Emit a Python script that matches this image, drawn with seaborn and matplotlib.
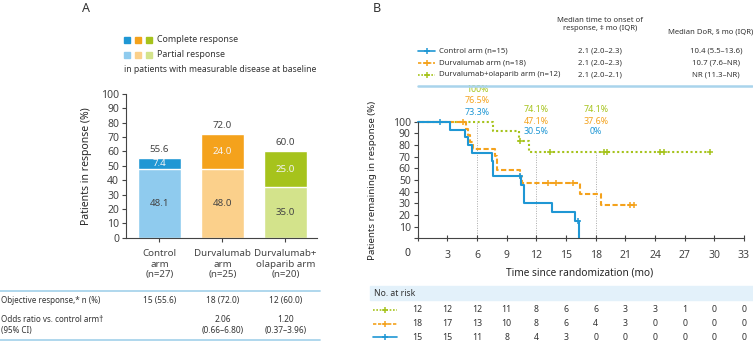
import numpy as np
import pandas as pd
import matplotlib.pyplot as plt
import seaborn as sns
from matplotlib.lines import Line2D
from matplotlib.patches import Rectangle
from matplotlib.transforms import blended_transform_factory

sns.set_style('ticks')
plt.rcParams['font.family'] = ['Noto Sans', 'DejaVu Sans']
plt.rcParams['text.color'] = '#333333'
plt.rcParams['axes.edgecolor'] = '#444444'
plt.rcParams['xtick.color'] = '#444444'
plt.rcParams['ytick.color'] = '#444444'

# ---- panel A data ----
arms = ['Control\narm\n(n=27)', 'Durvalumab\narm\n(n=25)', 'Durvalumab+\nolaparib arm\n(n=20)']
partial = [48.1, 48.0, 35.0]
complete = [7.4, 24.0, 25.0]
total = [55.6, 72.0, 60.0]
dark_cols = ['#1f97d4', '#f4a21c', '#a6c31c']
light_cols = ['#8fcbee', '#fbd08b', '#d3e38b']
orr = ['15 (55.6)', '18 (72.0)', '12 (60.0)']
odds = ['', '2.06', '1.20']
odds_ci = ['', '(0.66–6.80)', '(0.37–3.96)']

# ---- panel B data (Kaplan-Meier steps) ----
ctrl_t = [0, 3.3, 4.8, 5.1, 5.5, 7.5, 7.6, 10.4, 10.7, 13.6, 15.9, 16.3]
ctrl_s = [100, 93.3, 86.7, 80.0, 73.3, 66.7, 53.3, 45.7, 30.5, 22.9, 15.2, 0]
ctrl_cens = [2.3, 10.3, 16.2]

durv_t = [0, 4.9, 5.1, 5.3, 5.6, 7.8, 8.0, 10.3, 10.5, 16.4, 18.5, 22.0]
durv_s = [100, 94.1, 88.2, 82.4, 76.5, 70.6, 58.8, 52.9, 47.1, 37.6, 28.2, 28.2]
durv_cens = [4.6, 13.2, 14.0, 15.7, 21.5, 21.9]

olap_t = [0, 7.6, 10.2, 11.3, 29.6]
olap_s = [100, 91.7, 83.3, 74.1, 74.1]
olap_cens = [10.3, 13.4, 18.8, 19.1, 24.5, 24.9, 29.6]

risk_times = [0, 3, 6, 9, 12, 15, 18, 21, 24, 27, 30, 33]
risk_olap = [12, 12, 12, 11, 8, 6, 6, 3, 3, 1, 0, 0]
risk_durv = [18, 17, 13, 10, 8, 6, 4, 3, 0, 0, 0, 0]
risk_ctrl = [15, 15, 11, 8, 4, 3, 0, 0, 0, 0, 0, 0]

legend_names = ['Control arm (n=15)', 'Durvalumab arm (n=18)', 'Durvalumab+olaparib arm (n=12)']
onset = ['2.1 (2.0–2.3)', '2.1 (2.0–2.3)', '2.1 (2.0–2.1)']
dor = ['10.4 (5.5–13.6)', '10.7 (7.6–NR)', 'NR (11.3–NR)']

land_times = [6, 12, 18]
land_olap = ['100%', '74.1%', '74.1%']
land_durv = ['76.5%', '47.1%', '37.6%']
land_ctrl = ['73.3%', '30.5%', '0%']

W, H = 753, 345
fig = plt.figure(figsize=(W / 100, H / 100), dpi=100)


def fx(px):
    return px / W


def fy(py):
    return 1 - py / H


BLUE, ORANGE, GREEN = dark_cols
LINE_BLUE = '#a9d4ec'

# ================= panel A =================
axA = fig.add_axes([fx(126), fy(237.7), 191 / W, 143.7 / H])
dfA = pd.DataFrame({'arm': arms, 'total': total, 'partial': partial})
sns.barplot(data=dfA, x='arm', y='total', hue='arm', palette=dark_cols, legend=False,
            width=0.686, ax=axA, saturation=1)
sns.barplot(data=dfA, x='arm', y='partial', hue='arm', palette=light_cols, legend=False,
            width=0.686, ax=axA, saturation=1)
axA.set_xlim(-0.53, 2.5)
axA.set_ylim(0, 100)
axA.set_yticks(range(0, 101, 10))
axA.set_xlabel('')
axA.set_ylabel('Patients in response (%)', fontsize=7.5)
axA.yaxis.set_label_coords(-0.18, 0.5)
axA.tick_params(axis='y', labelsize=7.5, length=3, pad=2)
axA.tick_params(axis='x', labelsize=7, length=3, pad=5)
for lab in axA.get_xticklabels():
    lab.set_linespacing(1.25)
sns.despine(ax=axA)
for i in range(3):
    axA.text(i, partial[i] / 2, f'{partial[i]:.1f}', ha='center', va='center', fontsize=7, color='#444444')
    axA.text(i, partial[i] + complete[i] / 2, f'{complete[i]:.1f}', ha='center', va='center',
             fontsize=7, color='#f4f4f4')
    axA.annotate(f'{total[i]:.1f}', (i, total[i]), xytext=(0, 3), textcoords='offset points',
                 ha='center', va='bottom', fontsize=7, color='#444444')

# legend of panel A
for k in range(3):
    fig.add_artist(Rectangle((fx(124 + 11 * k), fy(43)), 6 / W, 6 / H, color=dark_cols[k],
                             transform=fig.transFigure))
    fig.add_artist(Rectangle((fx(124 + 11 * k), fy(57.5)), 6 / W, 6 / H, color=light_cols[k],
                             transform=fig.transFigure))
fig.text(fx(157), fy(40), 'Complete response', fontsize=6.4, va='center')
fig.text(fx(157), fy(54.5), 'Partial response', fontsize=6.4, va='center')
fig.text(fx(124), fy(69), 'in patients with measurable disease at baseline', fontsize=6.2, va='center')

# table below panel A
trA = blended_transform_factory(axA.transData, fig.transFigure)
fig.add_artist(Line2D([0, fx(320)], [fy(290.5), fy(290.5)], color=LINE_BLUE, lw=1.3))
fig.add_artist(Line2D([0, fx(320)], [fy(340), fy(340)], color=LINE_BLUE, lw=1.3))
fig.text(fx(1), fy(300.5), 'Objective response,* n (%)', fontsize=5.8, va='center')
fig.text(fx(1), fy(320), 'Odds ratio vs. control arm†', fontsize=5.8, va='center')
fig.text(fx(1), fy(331), '(95% CI)', fontsize=5.8, va='center')
for i in range(3):
    axA.text(i, fy(300.5), orr[i], transform=trA, ha='center', va='center', fontsize=6)
    axA.text(i, fy(320), odds[i], transform=trA, ha='center', va='center', fontsize=6)
    axA.text(i, fy(331), odds_ci[i], transform=trA, ha='center', va='center', fontsize=6)

fig.text(fx(86), fy(9), 'A', fontsize=9, fontweight='bold', ha='center', va='center')
fig.text(fx(377), fy(9), 'B', fontsize=9, fontweight='bold', ha='center', va='center')

# ================= panel B =================
axB = fig.add_axes([fx(417.7), fy(238.3), 326.3 / W, 116.6 / H])
arms_km = [
    (olap_t, olap_s, olap_cens, GREEN, (0, (1, 1.2))),
    (durv_t, durv_s, durv_cens, ORANGE, (0, (2.5, 1.2))),
    (ctrl_t, ctrl_s, ctrl_cens, BLUE, '-'),
]
for t, s, cens, col, ls in arms_km:
    sns.lineplot(x=t, y=s, drawstyle='steps-post', estimator=None, sort=False, color=col,
                 linestyle=ls, lw=1.5, ax=axB, clip_on=False)
    cs = [s[np.searchsorted(t, c, side='right') - 1] for c in cens]
    axB.plot(cens, cs, ls='none', marker='+', ms=5, mew=1.1, color=col, clip_on=False)

# landmark lines and labels
land_top = [max(np.array(s)[np.searchsorted(t, lt, side='right') - 1] for t, s, *_ in arms_km)
            for lt in land_times]
for lt, top in zip(land_times, land_top):
    axB.plot([lt, lt], [0, top], color='#aaaaaa', lw=0.7, ls=(0, (1, 1.5)), zorder=0)
label_y = [[127.2, 117.8, 108.3], [110.8, 100.6, 91.2], [110.8, 100.6, 91.2]]
for j, lt in enumerate(land_times):
    for lbl, col, yy in zip([land_olap[j], land_durv[j], land_ctrl[j]], [GREEN, ORANGE, BLUE], label_y[j]):
        axB.text(lt, yy, lbl, color=col, ha='center', va='center', fontsize=6.4, clip_on=False)

axB.set_xlim(0, 33)
axB.set_ylim(0, 100)
axB.set_xticks(risk_times)
axB.set_xticklabels([''] + [str(v) for v in risk_times[1:]])
axB.set_yticks(range(0, 101, 10))
axB.set_yticklabels([''] + [str(v) for v in range(10, 101, 10)])
axB.tick_params(axis='x', labelsize=7.5, direction='inout', length=5, pad=6)
axB.tick_params(axis='y', labelsize=7.5, length=3, pad=2)
axB.annotate('0', (0, 0), xytext=(-10, -15), textcoords='offset pixels', ha='center', va='center',
             fontsize=7.5, color='#333333', annotation_clip=False)
sns.despine(ax=axB)
axB.set_xlabel('Time since randomization (mo)', fontsize=7.3)
axB.xaxis.set_label_coords(0.497, -0.25)
axB.set_ylabel('Patients remaining in response (%)', fontsize=7)
axB.yaxis.set_label_coords(-0.125, 0.5)

# header table of panel B
fig.text(fx(600), fy(20), 'Median time to onset of', fontsize=5.5, ha='center', va='center')
fig.text(fx(600), fy(29), 'response, ‡ mo (IQR)', fontsize=5.5, ha='center', va='center')
fig.text(fx(711), fy(32), 'Median DoR, § mo (IQR)', fontsize=5.5, ha='center', va='center')
row_y = [51, 63, 75]
row_style = [(BLUE, '-'), (ORANGE, (0, (2, 1))), (GREEN, (0, (1, 1)))]
for k in range(3):
    col, ls = row_style[k]
    fig.add_artist(Line2D([fx(418), fx(435)], [fy(row_y[k])] * 2, color=col, ls=ls, lw=1.2))
    fig.add_artist(Line2D([fx(426.5)], [fy(row_y[k])], color=col, marker='+', ms=5, mew=1.1))
    fig.text(fx(439), fy(row_y[k]), legend_names[k], fontsize=5.6, va='center')
    fig.text(fx(600), fy(row_y[k]), onset[k], fontsize=5.6, va='center', ha='center')
    fig.text(fx(716), fy(row_y[k]), dor[k], fontsize=5.6, va='center', ha='center')
fig.add_artist(Line2D([fx(418), fx(752)], [fy(86), fy(86)], color=LINE_BLUE, lw=1.8))

# number at risk table
fig.add_artist(Rectangle((fx(370), fy(300)), 383 / W, 14 / H, color='#e3f1fa',
                         transform=fig.transFigure, zorder=0))
fig.text(fx(374), fy(293), 'No. at risk', fontsize=6.2, va='center')
trB = blended_transform_factory(axB.transData, fig.transFigure)
risk_rows = [(risk_olap, GREEN, (0, (1, 1)), 310), (risk_durv, ORANGE, (0, (2, 1)), 323.5),
             (risk_ctrl, BLUE, '-', 337)]
for vals, col, ls, yy in risk_rows:
    fig.add_artist(Line2D([fx(373), fx(397)], [fy(yy)] * 2, color=col, ls=ls, lw=1.2))
    fig.add_artist(Line2D([fx(385)], [fy(yy)], color=col, marker='+', ms=5, mew=1.1))
    for tt, v in zip(risk_times, vals):
        axB.text(tt, fy(yy), str(v), transform=trB, ha='center', va='center', fontsize=6.3,
                 clip_on=False)

fig.savefig('out.png', dpi=100)
